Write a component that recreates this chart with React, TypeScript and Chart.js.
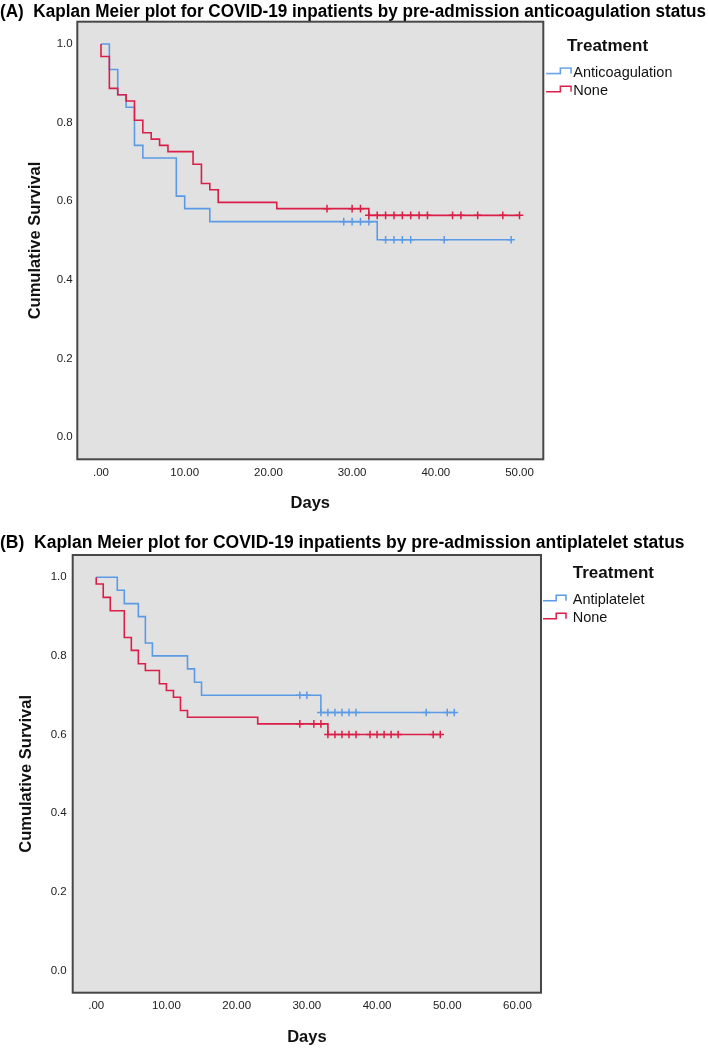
import { useEffect, useRef } from 'react';
import { Chart, registerables } from 'chart.js';

Chart.register(...registerables);

// ---------------- Panel A data ----------------
const titleA = '(A)  Kaplan Meier plot for COVID-19 inpatients by pre-admission anticoagulation status';
const labelA1 = 'Anticoagulation';
const labelA2 = 'None';
const eventDaysA1 = [0, 1, 2, 3, 4, 5, 9, 10, 13, 33];
const survivalA1 = [1.0, 0.935, 0.871, 0.839, 0.742, 0.71, 0.613, 0.581, 0.548, 0.502];
const censorDaysA1 = [29, 30, 31, 32, 34, 35, 36, 37, 41, 49];
const eventDaysA2 = [0, 0, 1, 2, 3, 4, 5, 6, 7, 8, 11, 12, 13, 14, 21, 32];
const survivalA2 = [1.0, 0.968, 0.887, 0.871, 0.855, 0.806, 0.774, 0.758, 0.742, 0.726, 0.694, 0.645, 0.629, 0.597, 0.581, 0.564];
const censorDaysA2 = [27, 30, 31, 32, 33, 34, 35, 36, 37, 38, 39, 42, 43, 45, 48, 50];
const xTicksA = [0, 10, 20, 30, 40, 50];

// ---------------- Panel B data ----------------
const titleB = '(B)  Kaplan Meier plot for COVID-19 inpatients by pre-admission antiplatelet status';
const labelB1 = 'Antiplatelet';
const labelB2 = 'None';
const eventDaysB1 = [0, 3, 4, 6, 7, 8, 13, 14, 15, 32];
const survivalB1 = [1.0, 0.967, 0.933, 0.9, 0.833, 0.8, 0.767, 0.733, 0.7, 0.656];
const censorDaysB1 = [29, 30, 32, 33, 34, 35, 36, 37, 47, 50, 51];
const eventDaysB2 = [0, 0, 1, 2, 4, 5, 6, 7, 9, 10, 11, 12, 13, 23, 33];
const survivalB2 = [1.0, 0.983, 0.949, 0.915, 0.847, 0.814, 0.78, 0.763, 0.729, 0.712, 0.695, 0.661, 0.644, 0.627, 0.6];
const censorDaysB2 = [29, 31, 32, 33, 34, 35, 36, 37, 39, 40, 41, 42, 43, 48, 49];
const xTicksB = [0, 10, 20, 30, 40, 50, 60];

// ---------------- shared ----------------
const yTicks = [0, 0.2, 0.4, 0.6, 0.8, 1.0];
const legendTitle = 'Treatment';
const xTitle = 'Days';
const yTitle = 'Cumulative Survival';

const BLUE = '#5B9BE6';
const RED = '#DA1E47';
const FONT = '"Liberation Sans", Arial, Helvetica, sans-serif';

type Group = { label: string; color: string; days: number[]; surv: number[]; censor: number[] };

type Lay = {
  xMin: number; xMax: number; yMin: number; yMax: number;
  titleSize: number; titlePadTop: number; titlePadBottom: number; padRight: number; spacer: number;
  yAxisWidth: number; yTitlePadTop: number; yTickPad: number;
  xAxisHeight: number; xTickPad: number; xTitlePadBottom: number;
  legendMaxWidth: number; legendTitlePos: 'start' | 'center' | 'end';
  legendTitlePadTop: number; legendTitlePadBottom: number; legendPad: number; legendBoxW: number;
  iconW: number; iconPad: number;
};

const layA: Lay = {
  xMin: -2.83, xMax: 52.84, yMin: -0.0567, yMax: 1.0567,
  titleSize: 17.5, titlePadTop: 2.81, titlePadBottom: 0.51, padRight: 3, spacer: 34.3,
  yAxisWidth: 77.3, yTitlePadTop: 25.1, yTickPad: 4.6,
  xAxisHeight: 65.7, xTickPad: 7, xTitlePadBottom: 12.1,
  legendMaxWidth: 128.4, legendTitlePos: 'center',
  legendTitlePadTop: 15.8, legendTitlePadBottom: 3.75, legendPad: 3.8, legendBoxW: 18.95,
  iconW: 31, iconPad: 5,
};

const layB: Lay = {
  xMin: -3.35, xMax: 63.35, yMin: -0.0567, yMax: 1.0567,
  titleSize: 17.5, titlePadTop: 8.81, titlePadBottom: 2.81, padRight: 24, spacer: 31,
  yAxisWidth: 72.7, yTitlePadTop: 16.8, yTickPad: 6,
  xAxisHeight: 57.3, xTickPad: 6.4, xTitlePadBottom: 3.1,
  legendMaxWidth: 113, legendTitlePos: 'end',
  legendTitlePadTop: 9.5, legendTitlePadBottom: 4.35, legendPad: 3.5, legendBoxW: 21,
  iconW: 24, iconPad: 0,
};

function curvePoints(g: Group) {
  const pts = g.days.map((d, i) => ({ x: d, y: g.surv[i] }));
  const end = Math.max(...g.censor);
  pts.push({ x: end, y: g.surv[g.surv.length - 1] });
  return pts;
}

function survivalAt(g: Group, t: number) {
  let s = g.surv[0];
  for (let i = 0; i < g.days.length; i++) if (g.days[i] <= t) s = g.surv[i];
  return s;
}

function makeStepIcon(color: string, w: number, pad: number) {
  const c = document.createElement('canvas');
  c.width = w;
  c.height = 12;
  const g = c.getContext('2d')!;
  g.strokeStyle = color;
  g.lineWidth = 1.5;
  const x0 = pad;
  const x1 = pad + (w - pad) * 0.55;
  const x2 = w - 1;
  g.beginPath();
  g.moveTo(x0, 6.75);
  g.lineTo(x1, 6.75);
  g.lineTo(x1, 1.25);
  g.lineTo(x2, 1.25);
  g.lineTo(x2, 6.75);
  g.stroke();
  return c;
}

const plotBox = {
  id: 'plotBox',
  beforeDraw(chart: any) {
    const { ctx, chartArea } = chart;
    ctx.save();
    ctx.fillStyle = '#E1E1E1';
    ctx.fillRect(chartArea.left, chartArea.top, chartArea.right - chartArea.left, chartArea.bottom - chartArea.top);
    ctx.restore();
  },
  afterDraw(chart: any) {
    const { ctx, chartArea } = chart;
    ctx.save();
    ctx.strokeStyle = '#474747';
    ctx.lineWidth = 2;
    ctx.strokeRect(chartArea.left, chartArea.top, chartArea.right - chartArea.left, chartArea.bottom - chartArea.top);
    ctx.restore();
  },
};

function KMPanel({ title, groups, xTicks, lay }: { title: string; groups: Group[]; xTicks: number[]; lay: Lay }) {
  const ref = useRef<HTMLCanvasElement>(null);
  useEffect(() => {
    const canvas = ref.current;
    if (!canvas) return;
    const icons = groups.map((g) => makeStepIcon(g.color, lay.iconW, lay.iconPad));
    const datasets: any[] = [];
    groups.forEach((g, i) => {
      const topOrder = (groups.length - 1 - i) * 2;
      datasets.push({
        label: g.label,
        data: curvePoints(g),
        showLine: true,
        stepped: true,
        borderColor: g.color,
        backgroundColor: g.color,
        borderWidth: 1.6,
        pointRadius: 0,
        pointHoverRadius: 0,
        fill: false,
        order: topOrder + 1,
      });
      datasets.push({
        label: g.label + ' censored',
        data: g.censor.map((t) => ({ x: t, y: survivalAt(g, t) })),
        showLine: false,
        pointStyle: 'cross',
        pointRadius: 3.8,
        pointHoverRadius: 3.8,
        borderColor: g.color,
        backgroundColor: g.color,
        pointBorderWidth: 1.5,
        order: topOrder,
      });
    });

    const chart = new Chart(canvas, {
      type: 'scatter',
      data: { datasets },
      plugins: [plotBox],
      options: {
        animation: false,
        responsive: false,
        events: [],
        layout: { padding: { left: 0, top: 0, bottom: 0, right: lay.padRight } },
        plugins: {
          tooltip: { enabled: false },
          title: {
            display: true,
            text: title,
            align: 'start',
            color: '#000',
            font: { family: FONT, size: lay.titleSize, weight: 'bold', lineHeight: 1.05 },
            padding: { top: lay.titlePadTop, bottom: lay.titlePadBottom },
          },
          legend: {
            display: true,
            position: 'right',
            align: 'start',
            fullSize: false,
            maxWidth: lay.legendMaxWidth,
            title: {
              display: true,
              text: legendTitle,
              position: lay.legendTitlePos,
              color: '#111',
              font: { family: FONT, size: 17, weight: 'bold', lineHeight: 1.2 },
              padding: { top: lay.legendTitlePadTop, bottom: lay.legendTitlePadBottom },
            },
            labels: {
              usePointStyle: true,
              pointStyleWidth: lay.legendBoxW,
              padding: lay.legendPad,
              color: '#111',
              font: { family: FONT, size: 14.5 },
              generateLabels: () =>
                groups.map((g, i) => ({
                  text: g.label,
                  fillStyle: 'rgba(0,0,0,0)',
                  strokeStyle: g.color,
                  fontColor: '#111',
                  lineWidth: 0,
                  pointStyle: icons[i],
                  hidden: false,
                  datasetIndex: i * 2,
                })),
            },
          },
        },
        scales: {
          x: {
            type: 'linear',
            min: lay.xMin,
            max: lay.xMax,
            grid: { display: false, drawTicks: false },
            border: { display: false },
            afterBuildTicks: (s: any) => {
              s.ticks = xTicks.map((v) => ({ value: v }));
            },
            afterFit: (s: any) => {
              s.height = lay.xAxisHeight;
            },
            ticks: {
              autoSkip: false,
              maxRotation: 0,
              padding: lay.xTickPad,
              color: '#222',
              font: { family: FONT, size: 11.5 },
              callback: (v: any) => (Number(v) === 0 ? '.00' : Number(v).toFixed(2)),
            },
            title: {
              display: true,
              text: xTitle,
              color: '#111',
              font: { family: FONT, size: 16.5, weight: 'bold', lineHeight: 1.2 },
              padding: { top: 0, bottom: lay.xTitlePadBottom },
            },
          },
          y: {
            type: 'linear',
            min: lay.yMin,
            max: lay.yMax,
            grid: { display: false, drawTicks: false },
            border: { display: false },
            afterBuildTicks: (s: any) => {
              s.ticks = yTicks.map((v) => ({ value: v }));
            },
            afterFit: (s: any) => {
              s.width = lay.yAxisWidth;
            },
            ticks: {
              padding: lay.yTickPad,
              color: '#222',
              font: { family: FONT, size: 11.5 },
              callback: (v: any) => Number(v).toFixed(1),
            },
            title: {
              display: true,
              text: yTitle,
              color: '#111',
              font: { family: FONT, size: 16.5, weight: 'bold', lineHeight: 1.2 },
              padding: { top: lay.yTitlePadTop, bottom: 0 },
            },
          },
          spacer: {
            type: 'linear',
            position: 'right',
            weight: 2000,
            display: true,
            grid: { display: false, drawTicks: false },
            border: { display: false },
            ticks: { display: false },
            afterFit: (s: any) => {
              s.width = lay.spacer;
            },
          },
        },
      } as any,
    });
    return () => chart.destroy();
  }, [title, groups, xTicks, lay]);

  return <canvas ref={ref} width={709} height={525} style={{ display: 'block', width: 709, height: 525 }} />;
}

const groupsA: Group[] = [
  { label: labelA1, color: BLUE, days: eventDaysA1, surv: survivalA1, censor: censorDaysA1 },
  { label: labelA2, color: RED, days: eventDaysA2, surv: survivalA2, censor: censorDaysA2 },
];
const groupsB: Group[] = [
  { label: labelB1, color: BLUE, days: eventDaysB1, surv: survivalB1, censor: censorDaysB1 },
  { label: labelB2, color: RED, days: eventDaysB2, surv: survivalB2, censor: censorDaysB2 },
];

export default function App() {
  return (
    <div style={{ position: 'absolute', left: 0, top: 0, width: 709, height: 1050, background: '#fff', overflow: 'hidden' }}>
      <KMPanel title={titleA} groups={groupsA} xTicks={xTicksA} lay={layA} />
      <KMPanel title={titleB} groups={groupsB} xTicks={xTicksB} lay={layB} />
    </div>
  );
}
